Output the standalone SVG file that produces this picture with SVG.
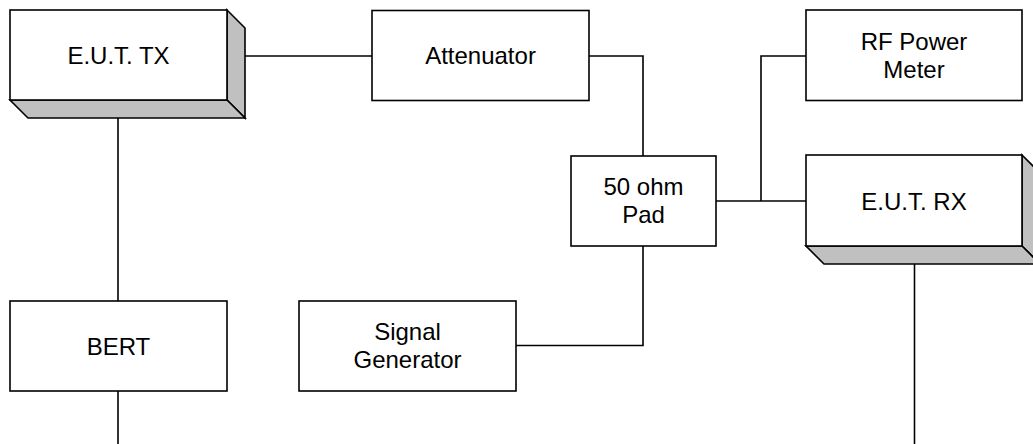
<svg xmlns="http://www.w3.org/2000/svg" width="1033" height="444" viewBox="0 0 1033 444">
<style>
.box{fill:#fff;stroke:#000;stroke-width:1.6}
.side{fill:#c0c0c0;stroke:#000;stroke-width:1.6;stroke-linejoin:miter}
.ln{fill:none;stroke:#000;stroke-width:1.6}
text{font-family:"Liberation Sans",Arial,sans-serif;font-size:24px;fill:#000;text-anchor:middle}
</style>
<rect width="1033" height="444" fill="#fff"/>
<g id="connectors">
<path class="ln" d="M227,56H372"/>
<path class="ln" d="M589,56H643V156"/>
<path class="ln" d="M118,118V301"/>
<path class="ln" d="M118,391V444"/>
<path class="ln" d="M643,246V345.5H516"/>
<path class="ln" d="M716,201H806"/>
<path class="ln" d="M761,201V56H806"/>
<path class="ln" d="M914.5,264V444"/>
</g>
<g id="eut-tx">
<polygon class="side" points="227,10 245,28 245,118 227,100"/>
<polygon class="side" points="10,100 227,100 245,118 28,118"/>
<rect class="box" x="10" y="10" width="217" height="90"/>
<text x="118.5" y="63.5">E.U.T. TX</text>
</g>
<g id="attenuator">
<rect class="box" x="372" y="10.5" width="217" height="90"/>
<text x="480.5" y="63.5">Attenuator</text>
</g>
<g id="rf-power-meter">
<rect class="box" x="806" y="10" width="216" height="90.5"/>
<text x="914" y="49.5">RF Power</text>
<text x="914" y="77.5">Meter</text>
</g>
<g id="pad">
<rect class="box" x="571" y="156" width="145" height="90"/>
<text x="643.5" y="194.5">50 ohm</text>
<text x="643.5" y="223">Pad</text>
</g>
<g id="eut-rx">
<polygon class="side" points="1022,155 1040,173 1040,264 1022,246"/>
<polygon class="side" points="806,246 1022,246 1040,264 824,264"/>
<rect class="box" x="806" y="155" width="216" height="91"/>
<text x="914" y="209.5">E.U.T. RX</text>
</g>
<g id="bert">
<rect class="box" x="10" y="301" width="217" height="90"/>
<text x="118.5" y="354.5">BERT</text>
</g>
<g id="signal-generator">
<rect class="box" x="299" y="301" width="217" height="90"/>
<text x="407.5" y="339.5">Signal</text>
<text x="407.5" y="367.5">Generator</text>
</g>
</svg>
